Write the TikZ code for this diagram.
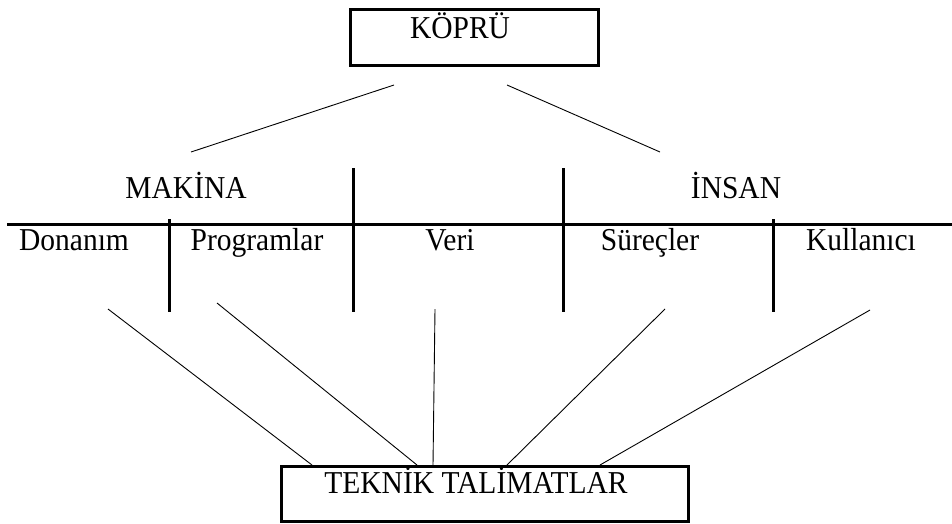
\documentclass[tikz,border=0pt]{standalone}
\usepackage{fontspec}
\setmainfont{Liberation Serif}
\begin{document}
\begin{tikzpicture}[x=1pt,y=-1pt,
  lbl/.style={inner sep=0pt,anchor=base,font=\fontsize{29.5}{32}\selectfont,yscale=1.08,transform shape},
  boxnode/.style={draw,line width=3.2pt,inner sep=0pt,anchor=north west},
  heavy/.style={line width=3pt},
  thin/.style={line width=0.9pt}]
\useasboundingbox (0,0) rectangle (952,523);
% boxes
\node[boxnode,minimum width=248pt,minimum height=56pt] (kbox) at (349,8) {};
\node[lbl] (kopru) at (460,38) {KÖPRÜ};
\node[boxnode,minimum width=407pt,minimum height=55pt] (tbox) at (280,465) {};
\node[lbl] (teknik) at (476,493) {TEKNİK TALİMATLAR};
% headings
\node[lbl] (makina) at (186,198) {MAKİNA};
\node[lbl] (insan) at (736,198) {İNSAN};
% items
\node[lbl] (donanim) at (74,250) {Donanım};
\node[lbl] (program) at (257,250) {Programlar};
\node[lbl] (veri) at (450,250) {Veri};
\node[lbl] (surec) at (650,250) {Süreçler};
\node[lbl] (kullanici) at (861,250) {Kullanıcı};
% grid lines
\coordinate (hl) at (7,224);
\coordinate (hr) at (952,224);
\draw[heavy] (hl) -- (hr);
\coordinate (v1t) at (353,168); \coordinate (v1b) at (353,312);
\coordinate (v2t) at (563,168); \coordinate (v2b) at (563,312);
\coordinate (v3t) at (169,219); \coordinate (v3b) at (169,312);
\coordinate (v4t) at (773,219); \coordinate (v4b) at (773,312);
\draw[heavy] (v1t) -- (v1b);
\draw[heavy] (v2t) -- (v2b);
\draw[heavy] (v3t) -- (v3b);
\draw[heavy] (v4t) -- (v4b);
% lines from KÖPRÜ
\coordinate (kl1) at (394,85); \coordinate (kl2) at (191,152);
\coordinate (kr1) at (507,85); \coordinate (kr2) at (660,152);
\draw[thin] (kl1) -- (kl2);
\draw[thin] (kr1) -- (kr2);
% lines to TEKNİK TALİMATLAR
\coordinate (s1) at (108,309); \coordinate (e1) at (312,465);
\coordinate (s2) at (217,303); \coordinate (e2) at (417,465);
\coordinate (s3) at (435,309); \coordinate (e3) at (433,465);
\coordinate (s4) at (665,309); \coordinate (e4) at (507,465);
\coordinate (s5) at (870,310); \coordinate (e5) at (600,465);
\draw[thin] (s1) -- (e1);
\draw[thin] (s2) -- (e2);
\draw[thin] (s3) -- (e3);
\draw[thin] (s4) -- (e4);
\draw[thin] (s5) -- (e5);
\end{tikzpicture}
\end{document}
